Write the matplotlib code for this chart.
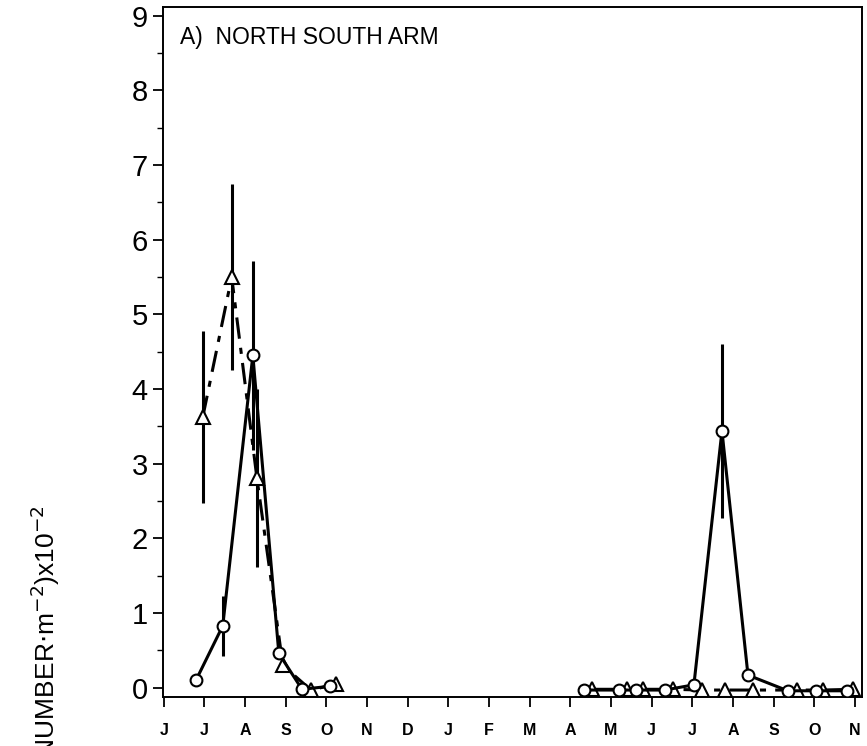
import matplotlib.pyplot as plt

plt.rcParams["font.family"] = ["Liberation Sans", "DejaVu Sans"]

# month labels, June of year 1 to November of year 2
months = ["J", "J", "A", "S", "O", "N", "D", "J", "F",
          "M", "A", "M", "J", "J", "A", "S", "O", "N"]

# circles (solid line), first season
circ1_x = [0.79, 1.45, 2.19, 2.83, 3.40, 4.08]
circ1_y = [0.10, 0.83, 4.45, 0.46, -0.02, 0.02]
circ1_err = [0.0, 0.40, 1.27, 0.0, 0.0, 0.0]

# triangles (dash-dot line), first season
tri1_x = [0.96, 1.67, 2.29, 2.93, 3.62, 4.23]
tri1_y = [3.63, 5.50, 2.81, 0.30, -0.03, 0.05]
tri1_err = [1.15, 1.25, 1.19, 0.0, 0.0, 0.0]

# circles, second season
circ2_x = [10.33, 11.19, 11.61, 12.32, 13.04, 13.73, 14.37, 15.35, 16.04, 16.80]
circ2_y = [-0.03, -0.03, -0.03, -0.03, 0.04, 3.44, 0.17, -0.04, -0.04, -0.04]
circ2_err = [0.0, 0.0, 0.0, 0.0, 0.0, 1.17, 0.0, 0.0, 0.0, 0.0]

# triangles, second season
tri2_x = [10.53, 11.39, 11.79, 12.52, 13.23, 13.80, 14.49, 15.57, 16.21, 16.95]
tri2_y = [-0.02, -0.02, -0.02, -0.02, -0.03, -0.03, -0.03, -0.03, -0.03, -0.02]


def draw_series(ax, x, y, err, marker, ls, ms):
    ax.errorbar(x, y, yerr=err, color="black", lw=2.2, ls=ls,
                marker=marker, ms=ms, mfc="white", mec="black", mew=1.5,
                elinewidth=2.2, capsize=0, zorder=3)


fig = plt.figure(figsize=(8.67, 7.46), dpi=100)
ax = fig.add_axes([0.188, 0.066, 0.806, 0.925])

dashdot = (0, (7, 3, 2, 3))
draw_series(ax, tri1_x, tri1_y, tri1_err, "^", dashdot, 10)
draw_series(ax, circ1_x, circ1_y, circ1_err, "o", "-", 8.5)
draw_series(ax, tri2_x, tri2_y, [0.0] * len(tri2_x), "^", dashdot, 10)
draw_series(ax, circ2_x, circ2_y, circ2_err, "o", "-", 8.5)

ax.set_xlim(-0.02, 17.17)
ax.set_ylim(-0.12, 9.12)

ax.set_xticks(range(len(months)))
ax.set_xticklabels(months, fontsize=11.5, fontweight="bold")
ax.set_yticks(range(10))
ax.set_yticklabels([str(i) for i in range(10)], fontsize=21)
ax.set_yticks([i + 0.5 for i in range(9)], minor=True)
ax.tick_params(axis="y", which="major", direction="out", length=7, width=1.3, pad=4)
ax.tick_params(axis="y", which="minor", direction="out", length=4, width=1.0)
ax.tick_params(axis="x", which="major", direction="out", length=7, width=1.3, pad=12)

for side in ["left", "bottom", "top", "right"]:
    ax.spines[side].set_linewidth(1.4)

ax.text(0.025, 0.955, "A)  NORTH SOUTH ARM", transform=ax.transAxes,
        fontsize=16.5, va="center", ha="left")

fig.text(0.052, 0.323, r"(NUMBER$\cdot$m$^{-2}$)x10$^{-2}$", rotation=90,
         ha="center", va="top", fontsize=19)

fig.savefig("out.png", dpi=100)
